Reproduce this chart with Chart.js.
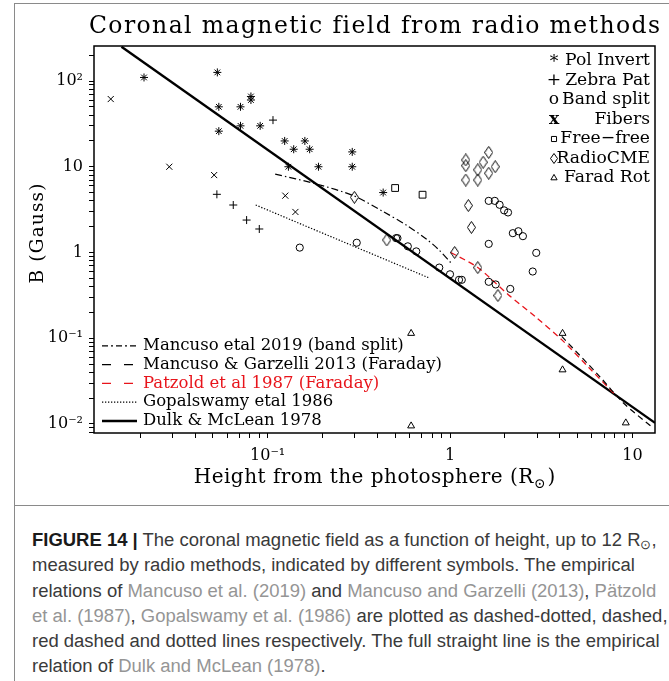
<!DOCTYPE html>
<html><head><meta charset="utf-8">
<script src="https://cdn.jsdelivr.net/npm/chart.js@4.4.1/dist/chart.umd.min.js"></script>
<style>
html,body{margin:0;padding:0;background:#fff;}
body{width:669px;height:681px;position:relative;overflow:hidden;}
#wrap{position:absolute;left:0;top:0;width:669px;height:505px;}
.fl{position:absolute;background:#8a8a8a;}
#cap{position:absolute;left:32px;top:527px;font-family:"Liberation Sans",Arial,sans-serif;font-size:17px;line-height:25.3px;color:#3a3a3a;white-space:nowrap;}
#cap b{color:#1a1a1a;}
#cap .l{color:#959595;}
#cap sub{font-size:0.7em;vertical-align:-0.25em;line-height:0;}
</style></head><body>
<div class="fl" style="left:14px;top:3px;width:1px;height:678px"></div>
<div class="fl" style="left:14px;top:3px;width:655px;height:1px"></div>
<div class="fl" style="left:14px;top:505px;width:655px;height:1px"></div>
<div id="wrap"><canvas id="c" width="669" height="505"></canvas></div>
<div id="cap">
<div class="ln"><b>FIGURE 14 |</b> The coronal magnetic field as a function of height, up to 12 R<sub>⊙</sub>,</div>
<div class="ln">measured by radio methods, indicated by different symbols. The empirical</div>
<div class="ln">relations of <span class="l">Mancuso et al. (2019)</span> and <span class="l">Mancuso and Garzelli (2013)</span>, <span class="l">Pätzold</span></div>
<div class="ln"><span class="l">et al. (1987)</span>, <span class="l">Gopalswamy et al. (1986)</span> are plotted as dashed-dotted, dashed,</div>
<div class="ln" id="longest">red dashed and dotted lines respectively. The full straight line is the empirical</div>
<div class="ln">relation of <span class="l">Dulk and McLean (1978)</span>.</div>
</div>
<script>
// ---------------- DATA ----------------
const titleText = "Coronal magnetic field from radio methods";
const xTitleMain = "Height from the photosphere (R";
const xTitleSub = "\u2299";
const xTitleEnd = ")";
const yTitle = "B (Gauss)";

const xTickValues = [0.1, 1, 10];
const xTickLabels = ["10\u207B\u00B9", "1", "10"];
const yTickValues = [100, 10, 1, 0.1, 0.01];
const yTickLabels = ["10\u00B2", "10", "1", "10\u207B\u00B9", "10\u207B\u00B2"];

const xMin = 0.01117, xMax = 13.3;
const yMin = 0.00785, yMax = 256;

// symbols
const polInvertX = [0.021, 0.053, 0.054, 0.071, 0.081, 0.081, 0.054, 0.071, 0.091, 0.124, 0.160, 0.139, 0.170, 0.130, 0.190, 0.291, 0.291, 0.430];
const polInvertB = [110, 126, 50, 50, 66, 60, 26, 30, 30, 20, 20, 16, 16, 10, 10, 14.9, 10, 5.0];

const zebraX = [0.107, 0.0527, 0.0648, 0.0767, 0.090];
const zebraB = [35, 4.77, 3.58, 2.39, 1.88];

const bandSplitX = [0.150, 0.308, 0.506, 0.515, 0.587, 0.653, 0.873, 1.00, 1.12, 1.16, 1.63, 1.78, 2.14, 1.63, 2.21, 2.37, 2.51, 2.97, 2.84, 1.63, 1.76, 1.87, 1.98, 2.08];
const bandSplitB = [1.14, 1.30, 1.47, 1.47, 1.18, 1.03, 0.667, 0.557, 0.48, 0.48, 0.455, 0.424, 0.376, 1.26, 1.68, 1.77, 1.55, 0.99, 0.60, 4.0, 4.0, 3.6, 3.1, 2.93];

const fibersX = [0.0138, 0.0289, 0.0509, 0.125, 0.142];
const fibersB = [61.6, 10, 8.0, 4.6, 2.97];

const freeFreeX = [0.50, 0.707];
const freeFreeB = [5.65, 4.72];

const radioCmeX = [1.22, 1.22, 1.63, 1.52, 1.42, 1.77, 1.63, 1.22, 1.42, 1.26, 1.31, 1.06, 1.42, 1.83, 0.299, 0.45];
const radioCmeB = [12.0, 10.3, 14.7, 11.3, 9.2, 10, 8.4, 7.0, 7.0, 3.53, 1.96, 1.0, 0.667, 0.315, 4.4, 1.4];

const faradRotX = [0.612, 0.612, 4.14, 4.14, 9.2];
const faradRotB = [0.114, 0.0095, 0.114, 0.0428, 0.0103];

// empirical relations
const mancuso2019X = [0.110, 0.185, 0.298, 0.43, 0.58, 0.75, 0.87, 1.01];
const mancuso2019B = [8.2, 6.3, 4.56, 3.0, 2.07, 1.41, 1.07, 0.76];
const garzelli2013X = [4.1, 6.6, 8.9, 12.8];
const garzelli2013B = [0.105, 0.036, 0.0177, 0.0092];
const patzoldX = [1.01, 1.42, 2.08, 2.93, 4.12, 5.8, 8.2];
const patzoldB = [1.0, 0.667, 0.324, 0.179, 0.095, 0.045, 0.021];
const gopalX = [0.086, 0.76];
const gopalB = [3.58, 0.51];
const dulkX = [0.0158, 13.3];
const dulkB = [251, 0.0103];

// ---------------- helpers ----------------
const SERIF = '"DejaVu Serif", "Liberation Serif", serif';
const mctx = document.createElement('canvas').getContext('2d');
function textW(text, size) {
  mctx.font = size + 'px ' + SERIF;
  return mctx.measureText(text).width;
}
function fitSize(text, target, base) { return base * target / textW(text, base); }
function fitSpacing(text, target, size) { return Math.max(0, (target - textW(text, size)) / text.length); }
const pts = (xs, ys) => xs.map((x, i) => ({x: x, y: ys[i]}));

function diamondImg(w, h) {
  const c = document.createElement('canvas');
  c.width = w + 2; c.height = h + 2;
  const g = c.getContext('2d');
  g.strokeStyle = '#000'; g.lineWidth = 1;
  g.beginPath();
  g.moveTo(c.width / 2, 0.5); g.lineTo(c.width - 0.5, c.height / 2);
  g.lineTo(c.width / 2, c.height - 0.5); g.lineTo(0.5, c.height / 2);
  g.closePath(); g.stroke();
  return c;
}
const diamondBig = diamondImg(7, 11);
const diamondSmall = diamondImg(6, 9);

const titleSize = 23.5;
const titleSpacing = fitSpacing(titleText, 572, titleSize);
const legendSize = fitSize("Mancuso & Garzelli 2013 (Faraday)", 299, 15);
const symSize = fitSize("Pol Invert", 85, 15);
const xTitleSize = 20;
const xTitleSpacing = fitSpacing(xTitleMain + "  )", 362, xTitleSize);
const yTitleSize = 18.5;
const yTitleSpacing = fitSpacing(yTitle, 101, yTitleSize);

function logTicks(min, max) {
  const t = [];
  for (let e = -3; e <= 3; e++) {
    for (let m = 1; m <= 9; m++) {
      const v = m * Math.pow(10, e);
      if (v >= min * 0.9999 && v <= max * 1.0001) t.push({value: v, major: m === 1});
    }
  }
  return t;
}
function labelFor(values, labels, v) {
  for (let i = 0; i < values.length; i++) {
    if (Math.abs(Math.log10(v) - Math.log10(values[i])) < 1e-6) return labels[i];
  }
  return '';
}

const black = '#000';
const open = 'rgba(0,0,0,0)';
function sym(label, xs, ys, style, r) {
  return {label: label, data: pts(xs, ys), showLine: false, pointStyle: style, pointRadius: r, pointHoverRadius: r,
    borderColor: black, backgroundColor: open, pointBorderColor: black, pointBackgroundColor: open, pointBorderWidth: 1, kind: 'sym'};
}
function line(label, xs, ys, color, width, dash, legendDash, tension) {
  return {label: label, data: pts(xs, ys), showLine: true, pointRadius: 0, borderColor: color, borderWidth: width,
    borderDash: dash, tension: tension || 0, fill: false, kind: 'line', legendDash: legendDash};
}

const datasets = [
  sym('Pol Invert', polInvertX, polInvertB, 'star', 4),
  sym('Zebra Pat', zebraX, zebraB, 'cross', 4),
  sym('Band split', bandSplitX, bandSplitB, 'circle', 3.6),
  sym('Fibers', fibersX, fibersB, 'crossRot', 4.3),
  sym('Free\u2212free', freeFreeX, freeFreeB, 'rect', 4.8),
  sym('RadioCME', radioCmeX, radioCmeB, diamondBig, 5),
  sym('Farad Rot', faradRotX, faradRotB, 'triangle', 4),
  line('Mancuso etal 2019 (band split)', mancuso2019X, mancuso2019B, black, 1.2, [7, 3, 1.5, 3], [6, 3, 2, 3], 0.3),
  line('Mancuso & Garzelli 2013 (Faraday)', garzelli2013X, garzelli2013B, black, 1.2, [6, 4], [9, 13], 0.3),
  line('Patzold et al 1987 (Faraday)', patzoldX, patzoldB, '#e8141b', 1.3, [6, 4], [9, 13], 0.3),
  line('Gopalswamy etal 1986', gopalX, gopalB, black, 1.2, [1.3, 1.7], [1.3, 1.7]),
  line('Dulk & McLean 1978', dulkX, dulkB, black, 2.4, [], [])
];

function spacedText(ctx, text, x, y, spacing, align) {
  ctx.save();
  if ('letterSpacing' in ctx) {
    ctx.letterSpacing = spacing.toFixed(2) + 'px';
  }
  ctx.textAlign = align || 'left';
  ctx.fillText(text, x, y);
  ctx.restore();
}

const legendsPlugin = {
  id: 'legendsAndFrame',
  afterDraw(chart) {
    const ctx = chart.ctx, a = chart.chartArea;
    ctx.save();
    // plot frame
    ctx.strokeStyle = black; ctx.lineWidth = 1.5;
    ctx.strokeRect(a.left, a.top, a.right - a.left, a.bottom - a.top);

    // title
    ctx.fillStyle = black;
    ctx.textBaseline = 'middle';
    ctx.font = titleSize + 'px ' + SERIF;
    spacedText(ctx, titleText, (a.left + a.right) / 2 + titleSpacing / 2, 27, titleSpacing, 'center');

    // x-axis title with subscript sun symbol
    ctx.font = xTitleSize + 'px ' + SERIF;
    const mainW = textW(xTitleMain, xTitleSize) + xTitleSpacing * xTitleMain.length;
    const subW = textW(xTitleSub, xTitleSize * 0.7);
    const endW = textW(xTitleEnd, xTitleSize);
    const total = mainW + subW + 2 + endW;
    let x0 = (a.left + a.right) / 2 - total / 2;
    const ty = 478;
    spacedText(ctx, xTitleMain, x0, ty, xTitleSpacing, 'left');
    ctx.font = (xTitleSize * 0.7) + 'px ' + SERIF;
    ctx.fillText(xTitleSub, x0 + mainW, ty + 6);
    ctx.font = xTitleSize + 'px ' + SERIF;
    ctx.fillText(xTitleEnd, x0 + mainW + subW + 2, ty);

    // y-axis title
    ctx.save();
    ctx.translate(38, (a.top + a.bottom) / 2 - 6);
    ctx.rotate(-Math.PI / 2);
    ctx.font = yTitleSize + 'px ' + SERIF;
    spacedText(ctx, yTitle, yTitleSpacing / 2, 0, yTitleSpacing, 'center');
    ctx.restore();

    // symbol legend (top right)
    const syms = chart.data.datasets.filter(d => d.kind === 'sym');
    ctx.font = symSize + 'px ' + SERIF;
    const glyphs = {'star': '*', 'cross': '+', 'circle': 'o', 'crossRot': 'x'};
    syms.forEach((d, i) => {
      const y = a.top + 15 + i * 19.5;
      ctx.textAlign = 'right';
      ctx.fillStyle = black;
      ctx.fillText(d.label, a.right - 5, y);
      const sx = a.right - 101;
      ctx.textAlign = 'center';
      if (typeof d.pointStyle === 'string' && glyphs[d.pointStyle]) {
        ctx.save();
        if (d.pointStyle === 'crossRot') ctx.font = 'bold ' + symSize + 'px ' + SERIF;
        ctx.fillText(glyphs[d.pointStyle], sx, y + (d.pointStyle === 'star' ? 2 : 0));
        ctx.restore();
      } else {
        ctx.save();
        ctx.strokeStyle = black; ctx.lineWidth = 1; ctx.fillStyle = open;
        const style = (d.pointStyle === diamondBig) ? diamondSmall : d.pointStyle;
        Chart.helpers.drawPoint(ctx, {pointStyle: style, radius: 3.6, rotation: 0, borderWidth: 1}, sx, y);
        ctx.restore();
      }
    });

    // line legend (bottom left)
    const lines = chart.data.datasets.filter(d => d.kind === 'line');
    ctx.font = legendSize + 'px ' + SERIF;
    ctx.textAlign = 'left';
    lines.forEach((d, i) => {
      const y = a.bottom - 12 - (lines.length - 1 - i) * 18.8;
      ctx.beginPath();
      ctx.strokeStyle = d.borderColor;
      ctx.lineWidth = d.borderWidth;
      ctx.setLineDash(d.legendDash);
      ctx.moveTo(a.left + 8, y); ctx.lineTo(a.left + 43, y);
      ctx.stroke();
      ctx.setLineDash([]);
      ctx.fillStyle = d.borderColor;
      ctx.fillText(d.label, a.left + 49, y);
    });
    ctx.restore();
  }
};

const tickFont = {family: SERIF, size: 16};

new Chart(document.getElementById('c'), {
  type: 'scatter',
  data: {datasets: datasets},
  options: {
    responsive: false,
    animation: false,
    events: [],
    layout: {padding: {left: 0, right: 14, top: 46, bottom: 0}},
    plugins: {
      legend: {display: false},
      tooltip: {enabled: false},
      title: {display: false}
    },
    scales: {
      x: {
        type: 'logarithmic', min: xMin, max: xMax,
        afterBuildTicks: s => { s.ticks = logTicks(s.min, s.max); },
        afterFit: s => { s.height = 72; },
        ticks: {autoSkip: false, maxRotation: 0, color: black, font: tickFont, padding: 8,
          callback: v => labelFor(xTickValues, xTickLabels, v)},
        grid: {display: true, drawOnChartArea: false, drawTicks: true, tickLength: 5, color: black, lineWidth: 1},
        border: {display: false},
        title: {display: false}
      },
      y: {
        type: 'logarithmic', min: yMin, max: yMax,
        afterBuildTicks: s => { s.ticks = logTicks(s.min, s.max); },
        afterFit: s => { s.width = 94; },
        ticks: {autoSkip: false, color: black, font: tickFont, padding: 6,
          callback: v => labelFor(yTickValues, yTickLabels, v)},
        grid: {display: true, drawOnChartArea: false, drawTicks: true, tickLength: 5, color: black, lineWidth: 1},
        border: {display: false},
        title: {display: false}
      }
    }
  },
  plugins: [legendsPlugin]
});

// fit caption width to the reference (longest line ~628px)
(function () {
  const cap = document.getElementById('cap');
  const lines = cap.querySelectorAll('.ln');
  lines.forEach(l => { l.style.display = 'inline-block'; });
  const el = document.getElementById('longest');
  const w = el.getBoundingClientRect().width;
  const fs = 17 * 628 / w;
  cap.style.fontSize = fs.toFixed(2) + 'px';
  lines.forEach(l => { l.style.display = 'block'; });
})();
</script>
</body></html>
